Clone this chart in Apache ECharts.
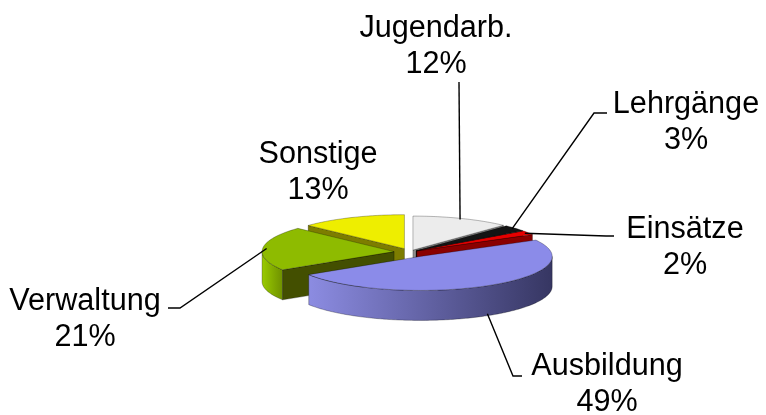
<!DOCTYPE html>
<html><head><meta charset="utf-8">
<script src="https://cdn.jsdelivr.net/npm/echarts@6/dist/echarts.min.js"></script>
<style>html,body{margin:0;padding:0;background:#fff}#c{width:766px;height:415px}</style>
</head><body><div id="c"></div>
<script>
// ---- data ----
const categories = ['Jugendarb.', 'Lehrgänge', 'Einsätze', 'Ausbildung', 'Verwaltung', 'Sonstige'];
const values = [12, 3, 2, 49, 21, 13];
const percentLabels = ['12%', '3%', '2%', '49%', '21%', '13%'];

// ---- styling / layout ----
const topColors = ['#ECECEC', '#141414', '#E60000', '#8B8BE9', '#8EBB00', '#EEEE00'];
const wallColors = [['#C0C0C0', '#707070'], ['#000000', '#000000'], ['#A00000', '#600000'], ['#8C8CE2', '#363662'], ['#9ACC00', '#6E8F00'], ['#8A8A00', '#6A6A00']];
const radialColors = ['#8E8E8E', '#000000', '#8A0000', '#3C3C70', '#434F00', '#7D7D00'];
const explode = [8, 8, 8, 20, 16, 14];
const PIE = { cx: 410, cy: 252, rx: 132, ry: 34, depth: 30 };
const FONT = { size: 30.6, family: '"Liberation Sans", Arial, sans-serif', lineGap: 36 };
const labelLayout = [
  { x: 436, y: 39, path: [[459, 82]] },
  { x: 686, y: 115, path: [[594, 113], [607, 113]] },
  { x: 685, y: 240, path: [[606, 236], [614, 236]] },
  { x: 607, y: 377, path: [[513, 376], [522, 376]] },
  { x: 85, y: 312, path: [[180, 308], [168, 308]] },
  { x: 318, y: 165, path: null }
];

const total = values.reduce((a, b) => a + b, 0);
const starts = [];
(function () { let acc = 0; values.forEach(v => { starts.push(acc / total * 360); acc += v; }); })();

function pt(ax, ay, r, th, dy) {
  const t = th * Math.PI / 180;
  return [ax + r * Math.sin(t), ay - r * PIE.ry / PIE.rx * Math.cos(t) + (dy || 0)];
}
function arc(ax, ay, a, b, dy) {
  const pts = [];
  const n = Math.max(2, Math.ceil(Math.abs(b - a)));
  for (let k = 0; k <= n; k++) pts.push(pt(ax, ay, PIE.rx, a + (b - a) * k / n, dy));
  return pts;
}
// draw order: back to front by mid-angle depth
const mids = values.map((v, i) => starts[i] + v / total * 180);
const order = mids.map((m, i) => i).sort((a, b) => (-Math.cos(mids[a] * Math.PI / 180)) - (-Math.cos(mids[b] * Math.PI / 180)));
const rank = []; order.forEach((idx, r) => rank[idx] = r);

function renderItem(params, api) {
  const i = params.dataIndex;
  const v = api.value(0);
  const s = starts[i], e = s + v / total * 360, m = (s + e) / 2;
  const ap = pt(PIE.cx, PIE.cy, explode[i], m);
  const ax = ap[0], ay = ap[1], D = PIE.depth;
  const base = rank[i] * 10;
  const children = [];
  const edge = 'rgba(0,0,0,0.35)';
  // outer wall (front half)
  const lo = Math.max(s, 90), hi = Math.min(e, 270);
  if (hi > lo) {
    const pts = arc(ax, ay, lo, hi, 0).concat(arc(ax, ay, hi, lo, D));
    children.push({
      type: 'polygon', z2: base + 1, shape: { points: pts },
      style: { fill: new echarts.graphic.LinearGradient(0, 0, 1, 0, [{ offset: 0, color: wallColors[i][0] }, { offset: 1, color: wallColors[i][1] }]), stroke: edge, lineWidth: 0.8 }
    });
  }
  // radial faces
  const sr = s * Math.PI / 180, er = e * Math.PI / 180;
  if (-Math.sin(sr) > 0.001) {
    const p = pt(ax, ay, PIE.rx, s);
    children.push({ type: 'polygon', z2: base + 1, shape: { points: [[ax, ay], p, [p[0], p[1] + D], [ax, ay + D]] }, style: { fill: radialColors[i], stroke: edge, lineWidth: 0.8 } });
  }
  if (Math.sin(er) > 0.001) {
    const p = pt(ax, ay, PIE.rx, e);
    children.push({ type: 'polygon', z2: base + 1, shape: { points: [[ax, ay], p, [p[0], p[1] + D], [ax, ay + D]] }, style: { fill: radialColors[i], stroke: edge, lineWidth: 0.8 } });
  }
  // top face
  children.push({ type: 'polygon', z2: base + 2, shape: { points: [[ax, ay]].concat(arc(ax, ay, s, e, 0)) }, style: { fill: topColors[i], stroke: edge, lineWidth: 0.8 } });
  // leader line
  const L = labelLayout[i];
  if (L.path) {
    const back = Math.cos(m * Math.PI / 180) > 0;
    const st = back ? pt(ax, ay, PIE.rx - 4, m) : pt(ax, ay, PIE.rx, m, D - 2);
    children.push({ type: 'polyline', z2: 500, shape: { points: [st].concat(L.path) }, style: { stroke: '#000', lineWidth: 1.4, fill: null } });
  }
  // label text
  const lines = [categories[i], percentLabels[i]];
  lines.forEach((t, k) => {
    children.push({
      type: 'text', z2: 600,
      style: { text: t, x: L.x, y: L.y + k * FONT.lineGap - FONT.size * 0.35, fill: '#000', fontSize: FONT.size, fontFamily: FONT.family, align: 'center', verticalAlign: 'middle' }
    });
  });
  return { type: 'group', children };
}

const chart = echarts.init(document.getElementById('c'), null, { renderer: 'canvas' });
chart.setOption({
  backgroundColor: '#fff',
  animation: false,
  series: [{
    type: 'custom',
    coordinateSystem: 'none',
    renderItem,
    data: values.map((v, i) => ({ name: categories[i], value: [v] }))
  }]
});
</script></body></html>
